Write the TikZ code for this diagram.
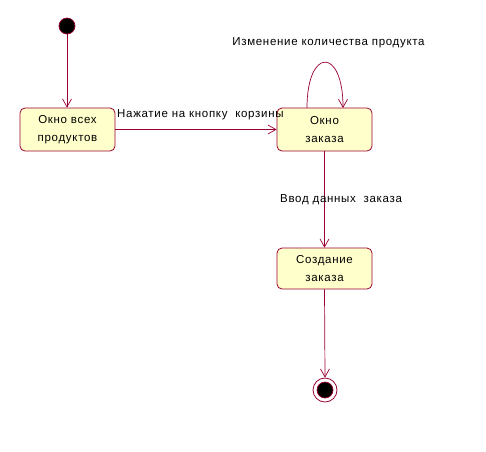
\documentclass[tikz,border=0pt]{standalone}
\usepackage{fontspec}
\setmainfont{Liberation Sans}
\newfontfamily\rosefont[LetterSpace=6]{Liberation Sans}
\usetikzlibrary{arrows.meta}
\definecolor{umlred}{HTML}{990033}
\definecolor{umlfill}{HTML}{FFFFCC}
\tikzset{
  state/.style={draw=umlred, line width=0.8pt, fill=umlfill, rounded corners=5pt, minimum width=95pt, minimum height=43pt, align=center, font=\rosefont\fontsize{11.5}{18}\selectfont, inner sep=2pt},
  trans/.style={draw=umlred, line width=0.7pt, -{Straight Barb[length=8pt,width=9pt,line width=0.7pt]}},
  lbl/.style={font=\rosefont\fontsize{11.5}{14}\selectfont, inner sep=0pt}
}
\begin{document}
\begin{tikzpicture}[x=1pt,y=-1pt]
\useasboundingbox (0,0) rectangle (486,451);
\node[circle, draw=umlred, line width=0.7pt, fill=black, minimum size=16pt, inner sep=0pt] (init) at (67,26) {};
\node[state] (b1) at (67.5,129.5) {Окно всех\\продуктов};
\node[state] (b2) at (324.5,129.5) {Окно\\заказа};
\node[state, minimum height=41pt] (b3) at (324.5,268.5) {Создание\\заказа};
\node[circle, draw=umlred, line width=0.8pt, minimum size=24pt, inner sep=0pt] (fin) at (325,390) {};
\node[circle, draw=umlred, line width=0.7pt, fill=black, minimum size=16pt, inner sep=0pt] (finin) at (fin) {};
\coordinate (la) at (307,108);
\coordinate (lb) at (343,108);
\draw[trans] (init) -- (init |- b1.north);
\draw[trans] (b1) -- (b2);
\draw[trans] (la) .. controls (307,47) and (343,47) .. (lb);
\draw[trans] (b2.south) -- (b3.north);
\draw[trans] (b3.south) -- (fin.north);
\node[lbl, anchor=west] (t1) at (117,115) {Нажатие на кнопку\ \ корзины};
\node[lbl] (t2) at (328.5,43) {Изменение количества продукта};
\node[lbl, anchor=west] (t3) at (280,200) {Ввод данных\ \ заказа};
\end{tikzpicture}
\end{document}
